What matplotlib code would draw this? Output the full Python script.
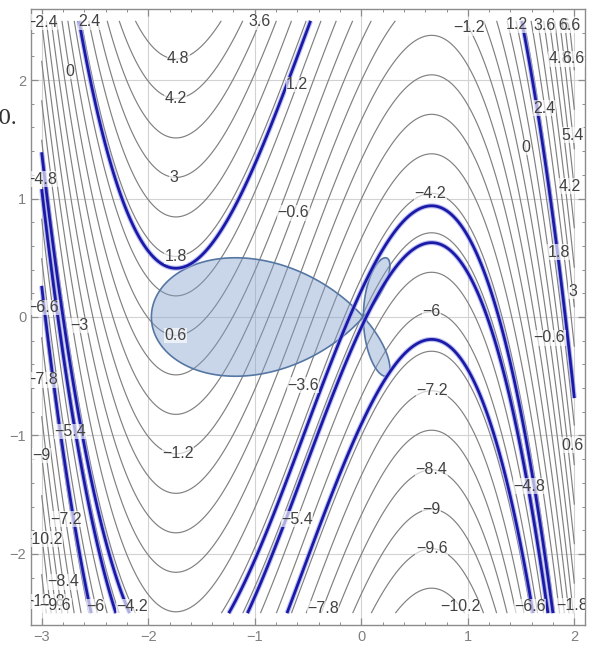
import numpy as np
import matplotlib
matplotlib.use("Agg")
import matplotlib.pyplot as plt
from matplotlib.ticker import MultipleLocator

plt.rcParams["font.family"] = ["Liberation Sans", "DejaVu Sans"]
plt.rcParams["contour.negative_linestyle"] = "solid"

# ---------------- surface  f(x, y) = Y_COEF*y + cubic(x) ----------------
X_RANGE = (-3.0, 2.0)
Y_RANGE = (-2.5, 2.5)
Y_COEF = 1.8
CUBIC = [1.007, 1.631, -3.469, -4.79]      # x^3, x^2, x, 1
STEP = 0.6
LEVEL_IDX = np.arange(-19, 13)             # levels = idx * STEP

# highlighted (blue) level curves
BLUE_LEVELS = [-6.42, -4.95, -4.39, 1.62]

# fish-shaped shaded region
FISH_NOSE = -1.97
FISH_CROSS = 0.02
FISH_HALF_H = 0.5
FISH_Y0 = 0.0

X_TICKS = [-3, -2, -1, 0, 1, 2]
Y_TICKS = [-2, -1, 0, 1, 2]

# contour labels: (level, near x, near y)
LABEL_SPOTS = [
    (-2.4, -2.99, 2.49), (2.4, -2.56, 2.49), (3.6, -0.95, 2.49),
    (4.8, -1.72, 2.19), (0, -2.75, 2.07), (4.2, -1.74, 1.86),
    (1.2, -0.59, 1.96), (3, -1.76, 1.20), (-4.8, -2.99, 1.17),
    (-0.6, -0.64, 0.88), (1.8, -1.74, 0.52), (-6.6, -3.0, 0.08),
    (-3, -2.70, -0.08), (0.6, -1.74, -0.15), (-7.8, -2.99, -0.53),
    (-3.6, -0.56, -0.57), (-5.4, -2.75, -0.97), (-9, -2.99, -1.15),
    (-1.2, -1.72, -1.16), (-5.4, -0.59, -1.71), (-7.2, -2.80, -1.71),
    (-10.2, -3.03, -1.88), (-8.4, -2.83, -2.24), (-10.8, -3.05, -2.41),
    (-9.6, -2.92, -2.44), (-6, -2.47, -2.44), (-4.2, -2.14, -2.44),
    (-7.8, -0.36, -2.46),
    (-1.2, 1.05, 2.46), (1.2, 1.43, 2.46), (3.6, 1.68, 2.46),
    (6, 1.88, 2.46), (6.6, 1.95, 2.46), (4.8, 1.86, 2.18),
    (6.6, 2.00, 2.18), (2.4, 1.71, 1.76), (0, 1.54, 1.43),
    (5.4, 1.94, 1.53), (4.2, 1.90, 1.10), (-4.2, 0.65, 1.05),
    (1.8, 1.80, 0.54), (3, 1.92, 0.21), (-6, 0.66, 0.04),
    (-0.6, 1.74, -0.18), (-7.2, 0.66, -0.64), (0.6, 1.99, -1.08),
    (-8.4, 0.66, -1.29), (-4.8, 1.57, -1.43), (-9, 0.66, -1.61),
    (-9.6, 0.66, -1.92), (-10.2, 0.93, -2.44), (-6.6, 1.60, -2.44),
    (-1.8, 1.94, -2.44),
]

GRAY = "#808080"
BLUE = "#1a1aa8"
HALO = "#a4a4ec"


def surface(x, y):
    return Y_COEF * y + np.polyval(CUBIC, x)


def fmt_level(v):
    return f"{round(v, 1) + 0.0:g}".replace("-", "\u2212")


fig = plt.figure(figsize=(5.99, 6.51), dpi=100)
ax = fig.add_axes([31 / 599, 1 - 625 / 651, 554 / 599, 616 / 651])

xs = np.linspace(*X_RANGE, 600)
ys = np.linspace(*Y_RANGE, 600)
X, Y = np.meshgrid(xs, ys)
F = surface(X, Y)

levels = np.round(LEVEL_IDX * STEP, 1)
cs = ax.contour(X, Y, F, levels=levels, colors=GRAY, linewidths=0.85, zorder=2)

# shaded region
t = np.linspace(0, 2 * np.pi, 800)
a = (FISH_CROSS - FISH_NOSE) / 2
x0 = (FISH_CROSS + FISH_NOSE) / 2
fx = x0 - a * (np.cos(t) - np.sin(t) ** 2)
fy = FISH_Y0 + 2 * FISH_HALF_H * np.cos(t) * np.sin(t)
ax.fill(fx, fy, facecolor=(0.50, 0.62, 0.80, 0.42), edgecolor="#5677a3",
        linewidth=1.2, zorder=3)

# highlighted curves
ax.contour(X, Y, F, levels=BLUE_LEVELS, colors=HALO, linewidths=3.6,
           alpha=0.7, zorder=4)
ax.contour(X, Y, F, levels=BLUE_LEVELS, colors=BLUE, linewidths=2.0, zorder=5)

# labels on the gray contours (one invisible single-level set per label level)
one_level = {}
for lev, lx, ly in LABEL_SPOTS:
    key = round(lev, 1)
    if key not in one_level:
        one_level[key] = ax.contour(X, Y, F, levels=[key], colors=GRAY,
                                    linewidths=0.0, zorder=2)
    txts = one_level[key].clabel(manual=[(lx, ly)], inline=False,
                                 fmt=fmt_level, fontsize=11.5,
                                 colors=["#424242"], zorder=6)
    for tx in txts:
        tx.set_rotation(0)
        tx.set_bbox(dict(facecolor="white", edgecolor="none", pad=0.2,
                         alpha=0.65))

ax.set_xlim(-3.1, 2.1)
ax.set_ylim(-2.6, 2.6)
ax.set_xticks(X_TICKS)
ax.set_yticks(Y_TICKS)
ax.xaxis.set_minor_locator(MultipleLocator(0.2))
ax.yaxis.set_minor_locator(MultipleLocator(0.2))
ax.tick_params(which="both", direction="in", top=True, right=True,
               color="#8c8c8c", labelcolor="#808080", labelsize=10.5)
ax.tick_params(which="major", length=5, width=0.9)
ax.tick_params(which="minor", length=2.5, width=0.7)
ax.grid(True, which="major", color="#d2d2d2", linewidth=0.8, zorder=0)
ax.set_axisbelow(True)
for sp in ax.spines.values():
    sp.set_color("#8c8c8c")
    sp.set_linewidth(1.0)

fig.text(-0.004, 0.818, "0.", fontsize=15, family="DejaVu Serif",
         color="#333333", ha="left", va="center")

fig.savefig("out.png", dpi=100, facecolor="white")
